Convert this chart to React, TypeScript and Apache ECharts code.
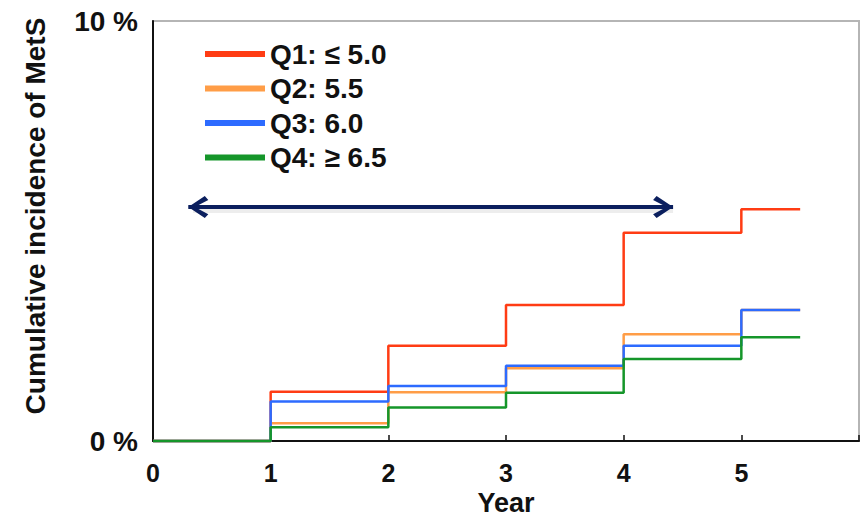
import React, { useEffect, useRef } from "react";
import * as echarts from "echarts";

const years = [0, 1, 2, 3, 4, 5, 5.5];
const seriesNames = ["Q1: ≤ 5.0", "Q2: 5.5", "Q3: 6.0", "Q4: ≥ 6.5"];
const q1 = [0, 1.17, 2.27, 3.24, 4.96, 5.52, 5.52];
const q2 = [0, 0.42, 1.16, 1.73, 2.54, 3.12, 3.12];
const q3 = [0, 0.94, 1.31, 1.79, 2.27, 3.12, 3.12];
const q4 = [0, 0.33, 0.8, 1.15, 1.95, 2.47, 2.47];
const colors = ["#ff3c14", "#ff9d47", "#2d6bff", "#15962a"];
const arrowStart = [0.3, 5.57];
const arrowEnd = [4.42, 5.57];
const arrowShadowStart = [0.34, 5.5];
const arrowShadowEnd = [4.42, 5.5];
const yTickLabels = ["0 %", "10 %"];

const FONT = "'Liberation Sans', Arial, sans-serif";
const chevron = "path://M10,-20 L10,-20 Z M10,0 L20,16.5 L16.5,20 L10,6.5 L3.5,20 L0,16.5 Z";

export default function App() {
  const ref = useRef<HTMLDivElement>(null);
  useEffect(() => {
    const chart = echarts.init(ref.current!, null, { renderer: "svg" });
    const allSeries = [q1, q2, q3, q4];
    const series: any[] = allSeries.map((vals, i) => ({
      name: seriesNames[i],
      type: "line",
      step: "end",
      data: years.map((x, j) => [x, vals[j]]),
      showSymbol: false,
      symbol: "none",
      clip: false,
      lineStyle: { color: colors[i], width: 2.5 },
      itemStyle: { color: colors[i] },
      z: 3 + i,
    }));
    series[0].markLine = {
      silent: true,
      symbol: ["none", "none"],
      label: { show: false },
      lineStyle: { color: "rgba(0,0,0,0.07)", width: 5, type: "solid" },
      data: [[{ coord: arrowShadowStart }, { coord: arrowShadowEnd }]],
    };
    series[3].markLine = {
      silent: true,
      symbol: [chevron, chevron],
      symbolSize: [22, 40],
      label: { show: false },
      lineStyle: { color: "#0b1f5e", width: 4, type: "solid" },
      itemStyle: { color: "#0b1f5e" },
      data: [[{ coord: arrowStart }, { coord: arrowEnd }]],
    };
    chart.setOption({
      animation: false,
      grid: {
        left: 153,
        right: 5,
        top: 21,
        bottom: 77,
        show: true,
        borderColor: "#b5b5b5",
        borderWidth: 2,
        outerBoundsMode: "none",
        containLabel: false,
      },
      legend: {
        orient: "vertical",
        left: 200,
        top: 35,
        itemWidth: 60,
        itemHeight: 6,
        itemGap: 6.5,
        icon: "rect",
        data: seriesNames,
        textStyle: { fontFamily: FONT, fontSize: 28, fontWeight: "bold", color: "#111" },
      },
      xAxis: {
        type: "value",
        min: 0,
        max: 6,
        interval: 1,
        name: "Year",
        nameLocation: "middle",
        nameGap: 47,
        nameTextStyle: { fontFamily: FONT, fontSize: 27, fontWeight: "bold", color: "#111" },
        axisLine: { show: true, lineStyle: { color: "#111", width: 2 } },
        axisTick: { show: true, inside: true, length: 6, lineStyle: { color: "#111", width: 1.5 } },
        splitLine: { show: false },
        axisLabel: {
          margin: 19,
          fontFamily: FONT,
          fontSize: 25,
          fontWeight: "bold",
          color: "#111",
          formatter: (v: number) => (v === 6 ? "" : String(v)),
        },
      },
      yAxis: {
        type: "value",
        min: 0,
        max: 10,
        interval: 10,
        name: "Cumulative incidence of MetS",
        nameLocation: "middle",
        nameGap: 104,
        nameTextStyle: {
          fontFamily: FONT,
          fontSize: 28,
          fontWeight: "bold",
          color: "#111",
          padding: [0, 0, 0, 30],
        },
        axisLine: { show: true, lineStyle: { color: "#111", width: 2 } },
        axisTick: { show: false },
        splitLine: { show: false },
        axisLabel: {
          margin: 15,
          fontFamily: FONT,
          fontSize: 28,
          fontWeight: "bold",
          color: "#111",
          formatter: (v: number) => (v === 0 ? yTickLabels[0] : yTickLabels[1]),
        },
      },
      series,
    });
    return () => chart.dispose();
  }, []);
  return <div ref={ref} style={{ width: 864, height: 518, position: "absolute", left: 0, top: 0 }} />;
}
